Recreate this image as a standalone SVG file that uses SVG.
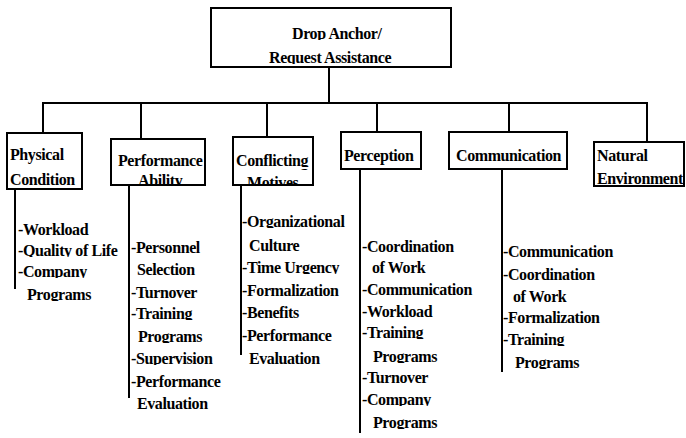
<svg xmlns="http://www.w3.org/2000/svg" width="686" height="438" viewBox="0 0 686 438">
  <style>
    .box { fill: #fff; stroke: #000; stroke-width: 2; }
    .wire { fill: none; stroke: #000; stroke-width: 2; }
    text { font-family: "Liberation Serif", "Times New Roman", serif; font-weight: bold; font-size: 16px; letter-spacing: -0.4px; fill: #000; }
  </style>
  <defs>
    <!-- each line of text is shown only down to its baseline -->
    <clipPath id="clip-root" clipPathUnits="userSpaceOnUse">
      <rect x="200" y="23" width="260" height="17"/>
      <rect x="200" y="47" width="260" height="17"/>
    </clipPath>
    <clipPath id="clip-boxes" clipPathUnits="userSpaceOnUse">
      <rect x="0" y="144" width="686" height="17"/>
      <rect x="0" y="150" width="686" height="17"/>
      <rect x="0" y="169" width="110" height="17"/>
      <rect x="110" y="169" width="100" height="15"/>
      <rect x="230" y="169" width="100" height="15"/>
      <rect x="590" y="168" width="96" height="17"/>
    </clipPath>
    <clipPath id="clip-physical" clipPathUnits="userSpaceOnUse">
      <rect x="16" y="219" width="112" height="17"/>
      <rect x="16" y="240" width="112" height="17"/>
      <rect x="16" y="261" width="112" height="17"/>
      <rect x="16" y="284" width="112" height="17"/>
    </clipPath>
    <clipPath id="clip-performance" clipPathUnits="userSpaceOnUse">
      <rect x="128" y="237" width="110" height="17"/>
      <rect x="128" y="259" width="110" height="17"/>
      <rect x="128" y="282" width="110" height="17"/>
      <rect x="128" y="303" width="110" height="17"/>
      <rect x="128" y="326" width="110" height="17"/>
      <rect x="128" y="348" width="110" height="17"/>
      <rect x="128" y="371" width="110" height="17"/>
      <rect x="128" y="393" width="110" height="17"/>
    </clipPath>
    <clipPath id="clip-conflicting" clipPathUnits="userSpaceOnUse">
      <rect x="240" y="211" width="116" height="17"/>
      <rect x="240" y="235" width="116" height="17"/>
      <rect x="240" y="257" width="116" height="17"/>
      <rect x="240" y="280" width="116" height="17"/>
      <rect x="240" y="302" width="116" height="17"/>
      <rect x="240" y="325" width="116" height="17"/>
      <rect x="240" y="348" width="116" height="17"/>
    </clipPath>
    <clipPath id="clip-perception" clipPathUnits="userSpaceOnUse">
      <rect x="359" y="236" width="130" height="17"/>
      <rect x="359" y="257" width="130" height="17"/>
      <rect x="359" y="279" width="130" height="17"/>
      <rect x="359" y="301" width="130" height="17"/>
      <rect x="359" y="322" width="130" height="17"/>
      <rect x="359" y="346" width="130" height="17"/>
      <rect x="359" y="367" width="130" height="17"/>
      <rect x="359" y="389" width="130" height="17"/>
      <rect x="359" y="412" width="130" height="17"/>
    </clipPath>
    <clipPath id="clip-communication" clipPathUnits="userSpaceOnUse">
      <rect x="500" y="241" width="140" height="17"/>
      <rect x="500" y="264" width="140" height="17"/>
      <rect x="500" y="286" width="140" height="17"/>
      <rect x="500" y="307" width="140" height="17"/>
      <rect x="500" y="329" width="140" height="17"/>
      <rect x="500" y="352" width="140" height="17"/>
    </clipPath>
  </defs>

  <!-- connectors -->
  <g id="connectors" class="wire">
    <line x1="329" y1="67" x2="329" y2="103"/>
    <line x1="42" y1="103" x2="648" y2="103"/>
    <line x1="43" y1="103" x2="43" y2="133"/>
    <line x1="141" y1="103" x2="141" y2="139"/>
    <line x1="267" y1="103" x2="267" y2="137"/>
    <line x1="377" y1="103" x2="377" y2="132"/>
    <line x1="509" y1="103" x2="509" y2="132"/>
    <line x1="647" y1="103" x2="647" y2="143"/>
    <!-- list rails -->
    <line x1="15" y1="189" x2="15" y2="289"/>
    <line x1="129" y1="185" x2="129" y2="398"/>
    <line x1="241" y1="185" x2="241" y2="355"/>
    <line x1="360" y1="169" x2="360" y2="433"/>
    <line x1="502" y1="169" x2="502" y2="372"/>
  </g>

  <g id="root">
    <rect class="box" x="211" y="8" width="240" height="59"/>
    <g clip-path="url(#clip-root)">
      <text x="292" y="39">Drop Anchor/</text>
      <text x="269" y="63">Request Assistance</text>
    </g>
  </g>

  <g id="physical-condition">
    <rect class="box" x="7" y="133" width="75" height="56"/>
    <g clip-path="url(#clip-boxes)">
      <text x="10" y="160">Physical</text>
      <text x="10" y="185">Condition</text>
    </g>
  </g>

  <g id="performance-ability">
    <rect class="box" x="111" y="139" width="94" height="46"/>
    <g clip-path="url(#clip-boxes)">
      <text x="118" y="166">Performance</text>
      <text x="138" y="186">Ability</text>
    </g>
  </g>

  <g id="conflicting-motives">
    <rect class="box" x="233" y="137" width="80" height="48"/>
    <g clip-path="url(#clip-boxes)">
      <text x="236" y="166">Conflicting</text>
      <text x="247" y="188">Motives</text>
    </g>
  </g>

  <g id="perception">
    <rect class="box" x="341" y="132" width="80" height="37"/>
    <g clip-path="url(#clip-boxes)">
      <text x="344" y="161">Perception</text>
    </g>
  </g>

  <g id="communication">
    <rect class="box" x="449" y="132" width="118" height="37"/>
    <g clip-path="url(#clip-boxes)">
      <text x="456" y="161">Communication</text>
    </g>
  </g>

  <g id="natural-environment">
    <rect class="box" x="594" y="142" width="90" height="44"/>
    <g clip-path="url(#clip-boxes)">
      <text x="597" y="161">Natural</text>
      <text x="597" y="184">Environment</text>
    </g>
  </g>

  <g id="physical-items" clip-path="url(#clip-physical)">
    <text x="18" y="235">-Workload</text>
    <text x="18" y="256">-Quality of Life</text>
    <text x="18" y="277">-Company</text>
    <text x="27" y="300">Programs</text>
  </g>

  <g id="performance-items" clip-path="url(#clip-performance)">
    <text x="131" y="253">-Personnel</text>
    <text x="137" y="275">Selection</text>
    <text x="131" y="298">-Turnover</text>
    <text x="131" y="319">-Training</text>
    <text x="138" y="342">Programs</text>
    <text x="131" y="364">-Supervision</text>
    <text x="131" y="387">-Performance</text>
    <text x="137" y="409">Evaluation</text>
  </g>

  <g id="conflicting-items" clip-path="url(#clip-conflicting)">
    <text x="242" y="227">-Organizational</text>
    <text x="249" y="251">Culture</text>
    <text x="242" y="273">-Time Urgency</text>
    <text x="242" y="296">-Formalization</text>
    <text x="242" y="318">-Benefits</text>
    <text x="242" y="341">-Performance</text>
    <text x="249" y="364">Evaluation</text>
  </g>

  <g id="perception-items" clip-path="url(#clip-perception)">
    <text x="362" y="252">-Coordination</text>
    <text x="372" y="273">of Work</text>
    <text x="362" y="295">-Communication</text>
    <text x="362" y="317">-Workload</text>
    <text x="362" y="338">-Training</text>
    <text x="373" y="362">Programs</text>
    <text x="362" y="383">-Turnover</text>
    <text x="362" y="405">-Company</text>
    <text x="373" y="428">Programs</text>
  </g>

  <g id="communication-items" clip-path="url(#clip-communication)">
    <text x="503" y="257">-Communication</text>
    <text x="503" y="280">-Coordination</text>
    <text x="513" y="302">of Work</text>
    <text x="503" y="323">-Formalization</text>
    <text x="503" y="345">-Training</text>
    <text x="515" y="368">Programs</text>
  </g>
</svg>
